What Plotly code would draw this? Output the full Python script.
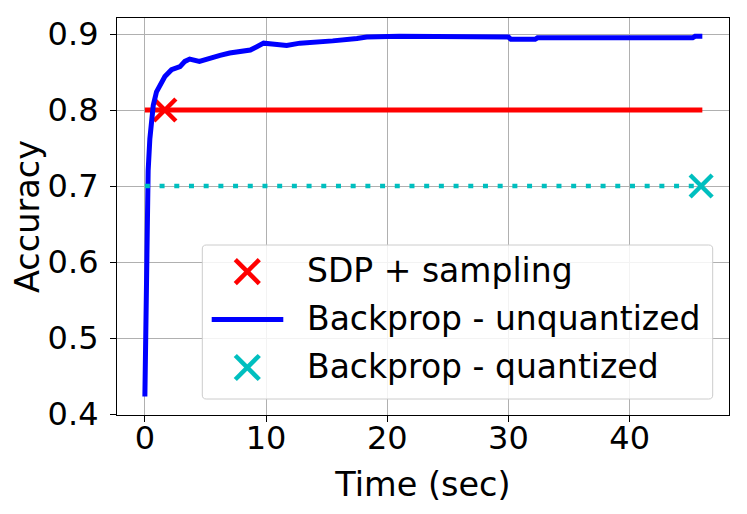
import plotly.graph_objects as go

# ---------------- data ----------------
blue_time = [0.0, 0.03, 0.08, 0.14, 0.19, 0.27, 0.41, 0.55, 0.69, 0.96, 1.24, 1.65,
             2.2, 2.9, 3.3, 3.7, 4.5, 5.4, 6.2, 7.0, 7.8, 8.7, 9.2, 9.8, 10.5, 11.7,
             12.8, 14.0, 15.5, 17.5, 18.3, 21.0, 24.0, 26.2, 26.4, 27.0, 30.0, 30.2,
             32.2, 32.4, 45.2, 45.4, 46.0]
blue_acc = [0.423, 0.45, 0.506, 0.594, 0.66, 0.72, 0.762, 0.786, 0.806, 0.824, 0.833, 0.844,
            0.853, 0.857, 0.864, 0.867, 0.864, 0.869, 0.872, 0.875, 0.877, 0.879, 0.883, 0.888,
            0.887, 0.885, 0.888, 0.889, 0.891, 0.894, 0.896, 0.897, 0.897, 0.897, 0.896, 0.896,
            0.896, 0.893, 0.893, 0.895, 0.895, 0.897, 0.897]

sdp_line_time = [0.0, 46.0]
sdp_line_acc = [0.8, 0.8]
sdp_point_time = [1.65]
sdp_point_acc = [0.8]

quant_line_time = [0.0, 46.0]
quant_line_acc = [0.7, 0.7]
quant_point_time = [45.9]
quant_point_acc = [0.7]

x_ticks = [0, 10, 20, 30, 40]
x_tick_labels = ["0", "10", "20", "30", "40"]
y_ticks = [0.4, 0.5, 0.6, 0.7, 0.8, 0.9]
y_tick_labels = ["0.4", "0.5", "0.6", "0.7", "0.8", "0.9"]

legend_labels = ["SDP + sampling", "Backprop - unquantized", "Backprop - quantized"]

RED = "#ff0000"
BLUE = "#0000ff"
CYAN = "#00bfbf"
FONT = "DejaVu Sans"

# ---------------- layout geometry ----------------
# the page body has an 8px margin, so the figure starts at (8, 8) of the window
OFF = 8
WIN_W, WIN_H = 747, 514
W, H = WIN_W - OFF, WIN_H - OFF
# plot area in window pixels: x 117..729, y 18..415
PL, PR, PT, PB = 117, 729, 18, 415
L, R, T, B = PL - OFF, (OFF + W) - PR, PT - OFF, (OFF + H) - PB
PW = PR - PL
PH = PB - PT


def pxx(xp):
    return (xp - PL) / PW


def pxy(yp):
    return (PB - yp) / PH


fig = go.Figure()

fig.add_trace(go.Scatter(x=sdp_line_time, y=sdp_line_acc, mode="lines",
                         line=dict(color=RED, width=5), showlegend=False,
                         hoverinfo="skip"))
fig.add_trace(go.Scatter(x=sdp_point_time, y=sdp_point_acc, mode="markers",
                         marker=dict(symbol="x-thin", size=22, color=RED,
                                     line=dict(color=RED, width=4.5)),
                         name=legend_labels[0], showlegend=False))
fig.add_trace(go.Scatter(x=blue_time, y=blue_acc, mode="lines",
                         line=dict(color=BLUE, width=5),
                         name=legend_labels[1], showlegend=False))
fig.add_trace(go.Scatter(x=quant_line_time, y=quant_line_acc, mode="lines",
                         line=dict(color=CYAN, width=4.5, dash="5px,9.7px"),
                         showlegend=False, hoverinfo="skip"))
fig.add_trace(go.Scatter(x=quant_point_time, y=quant_point_acc, mode="markers",
                         marker=dict(symbol="x-thin", size=22, color=CYAN,
                                     line=dict(color=CYAN, width=4.5)),
                         name=legend_labels[2], showlegend=False))

# ---------------- manual legend ----------------
shapes = []
bx0, bx1, by0, by1, r = 202.3, 712.7, 245, 399, 4
pts = [
    ("M", bx0 + r, by0), ("L", bx1 - r, by0), ("Q", bx1, by0, bx1, by0 + r),
    ("L", bx1, by1 - r), ("Q", bx1, by1, bx1 - r, by1), ("L", bx0 + r, by1),
    ("Q", bx0, by1, bx0, by1 - r), ("L", bx0, by0 + r), ("Q", bx0, by0, bx0 + r, by0),
]
path = ""
for p in pts:
    cmd = p[0]
    coords = p[1:]
    s = []
    for i in range(0, len(coords), 2):
        s.append(f"{pxx(coords[i]):.5f},{pxy(coords[i + 1]):.5f}")
    path += cmd + " ".join(s) + " "
path += "Z"
shapes.append(dict(type="path", xref="paper", yref="paper", path=path,
                   fillcolor="rgba(255,255,255,0.85)",
                   line=dict(color="#cccccc", width=1), layer="above"))

glyph_cx = 247.3
row_y = [271.6, 319.5, 367.5]
hs = 12.0


def add_x(cx, cy, color):
    shapes.append(dict(type="line", xref="paper", yref="paper",
                       x0=pxx(cx - hs), y0=pxy(cy - hs), x1=pxx(cx + hs), y1=pxy(cy + hs),
                       line=dict(color=color, width=4.5), layer="above"))
    shapes.append(dict(type="line", xref="paper", yref="paper",
                       x0=pxx(cx - hs), y0=pxy(cy + hs), x1=pxx(cx + hs), y1=pxy(cy - hs),
                       line=dict(color=color, width=4.5), layer="above"))


add_x(glyph_cx, row_y[0], RED)
shapes.append(dict(type="line", xref="paper", yref="paper",
                   x0=pxx(211.7), y0=pxy(row_y[1]), x1=pxx(283.3), y1=pxy(row_y[1]),
                   line=dict(color=BLUE, width=5), layer="above"))
add_x(glyph_cx, row_y[2], CYAN)

annotations = []
for lab, yy in zip(legend_labels, row_y):
    annotations.append(dict(text=lab, xref="paper", yref="paper", x=pxx(305), y=pxy(yy - 1.5),
                            xanchor="left", yanchor="middle", showarrow=False,
                            font=dict(family=FONT, size=33, color="black")))

axis_common = dict(showgrid=True, gridcolor="#b0b0b0", gridwidth=1, zeroline=False,
                   showline=True, linecolor="black", linewidth=1.2, mirror=True,
                   ticks="outside", ticklen=6, tickwidth=1.2, tickcolor="black",
                   tickfont=dict(family=FONT, size=32, color="black"))

fig.update_layout(
    width=W, height=H,
    margin=dict(l=L, r=R, t=T, b=B, autoexpand=False),
    paper_bgcolor="white", plot_bgcolor="white",
    font=dict(family=FONT, color="black"),
    showlegend=False,
    xaxis=dict(range=[-2.3, 48.2], tickvals=x_ticks, ticktext=x_tick_labels,
               title=dict(text="Time (sec)", font=dict(family=FONT, size=33.5), standoff=17),
               ticklabelstandoff=-12, **axis_common),
    yaxis=dict(range=[0.3987, 0.9211], tickvals=y_ticks, ticktext=y_tick_labels,
               title=dict(text="Accuracy", font=dict(family=FONT, size=33.5), standoff=3),
               ticklabelstandoff=5, **axis_common),
    shapes=shapes,
    annotations=annotations,
)

fig.write_html("out.html")
